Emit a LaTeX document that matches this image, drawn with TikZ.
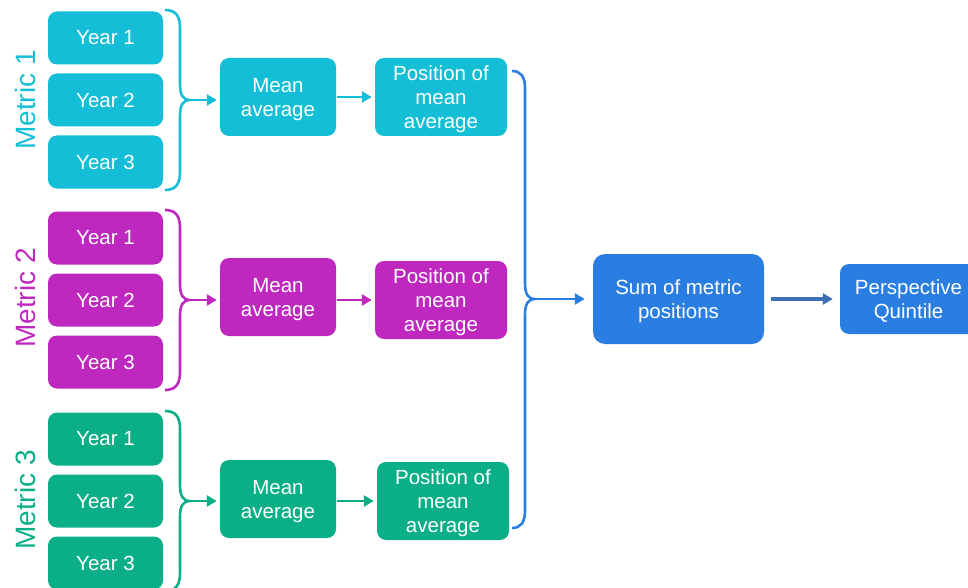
\documentclass[tikz,border=0pt]{standalone}
\usepackage{fontspec}
\setmainfont{Liberation Sans}
\usetikzlibrary{arrows.meta}

\definecolor{mcyan}{RGB}{19,190,214}
\definecolor{mpurple}{RGB}{190,40,190}
\definecolor{mgreen}{RGB}{10,175,135}
\definecolor{mblue}{RGB}{42,125,225}
\definecolor{mdark}{RGB}{59,111,182}

\tikzset{
  box/.style={rounded corners=9pt, text=white, align=center, inner sep=0pt, font=\fontsize{20.5}{24.3}\selectfont},
  twoline/.style={text height=43.5pt, text depth=4.3pt},
  threeline/.style={text height=68pt, text depth=4.3pt},
  yearbox/.style={box, minimum width=115pt, minimum height=53pt},
  meanbox/.style={box, twoline, minimum width=116pt, minimum height=78pt},
  posbox/.style={box, threeline, minimum width=132pt, minimum height=78pt},
  link/.style={line width=2.6pt, -{Triangle[length=10pt,width=11pt]}},
  bracket/.style={line width=2.6pt},
  metric/.style={rotate=90, font=\fontsize{28}{30}\selectfont},
}

\begin{document}
\begin{tikzpicture}[x=1pt,y=-1pt]
		\useasboundingbox (0,0) rectangle (968,588);
		% Metric 1
		\node[metric, text=mcyan] (m1) at (25,100) {Metric 1};
		\node[yearbox, fill=mcyan] (m1y1) at (105.5,38) {Year 1};
		\node[yearbox, fill=mcyan] (m1y2) at (105.5,100) {Year 2};
		\node[yearbox, fill=mcyan] (m1y3) at (105.5,162) {Year 3};
		\node[meanbox, fill=mcyan] (m1mean) at (278,97) {Mean\\average};
		\node[posbox, fill=mcyan] (m1pos) at (441,97) {Position of\\mean\\average};
		\coordinate (m1tip) at (190,100);
		\draw[bracket, mcyan] (165,10) .. controls (175,10) and (180,15) .. (180,28) -- (180,84) .. controls (180,95) and (183,100) .. (m1tip) .. controls (183,100) and (180,105) .. (180,116) -- (180,172) .. controls (180,185) and (175,190) .. (165,190);
		\draw[link, mcyan, shorten >=3pt] (m1tip) -- (m1tip -| m1mean.west);
		\draw[link, mcyan, shorten <=1pt, shorten >=3pt] (m1mean.east) -- (m1pos.west);
		% Metric 2
		\node[metric, text=mpurple] (m2) at (25,298) {Metric 2};
		\node[yearbox, fill=mpurple] (m2y1) at (105.5,238) {Year 1};
		\node[yearbox, fill=mpurple] (m2y2) at (105.5,300) {Year 2};
		\node[yearbox, fill=mpurple] (m2y3) at (105.5,362) {Year 3};
		\node[meanbox, fill=mpurple] (m2mean) at (278,297) {Mean\\average};
		\node[posbox, fill=mpurple] (m2pos) at (441,300) {Position of\\mean\\average};
		\coordinate (m2tip) at (190,300);
		\draw[bracket, mpurple] (165,210) .. controls (175,210) and (180,215) .. (180,228) -- (180,284) .. controls (180,295) and (183,300) .. (m2tip) .. controls (183,300) and (180,305) .. (180,316) -- (180,372) .. controls (180,385) and (175,390) .. (165,390);
		\draw[link, mpurple, shorten >=3pt] (m2tip) -- (m2tip -| m2mean.west);
		\draw[link, mpurple, shorten <=1pt, shorten >=3pt] (m2mean.east |- m2tip) -- (m2pos.west |- m2tip);
		% Metric 3
		\node[metric, text=mgreen] (m3) at (25,500) {Metric 3};
		\node[yearbox, fill=mgreen] (m3y1) at (105.5,439) {Year 1};
		\node[yearbox, fill=mgreen] (m3y2) at (105.5,501) {Year 2};
		\node[yearbox, fill=mgreen] (m3y3) at (105.5,563) {Year 3};
		\node[meanbox, fill=mgreen] (m3mean) at (278,499) {Mean\\average};
		\node[posbox, fill=mgreen] (m3pos) at (443,501) {Position of\\mean\\average};
		\coordinate (m3tip) at (190,501);
		\draw[bracket, mgreen] (165,411) .. controls (175,411) and (180,416) .. (180,429) -- (180,485) .. controls (180,496) and (183,501) .. (m3tip) .. controls (183,501) and (180,506) .. (180,517) -- (180,573) .. controls (180,586) and (175,591) .. (165,591);
		\draw[link, mgreen, shorten >=3pt] (m3tip) -- (m3tip -| m3mean.west);
		\draw[link, mgreen, shorten <=1pt, shorten >=3pt] (m3mean.east |- m3tip) -- (m3pos.west |- m3tip);
		% Sum and quintile
		\node[box, twoline, fill=mblue, rounded corners=12pt, minimum width=171pt, minimum height=90pt] (sum) at (678.5,299) {Sum of metric\\positions};
		\node[box, twoline, fill=mblue, minimum width=137pt, minimum height=70pt] (quint) at (908.5,299) {Perspective\\Quintile};
		\coordinate (bigtip) at (535,299);
		\draw[bracket, mblue] (512,71) .. controls (521,71) and (525,77) .. (525,88) -- (525,283) .. controls (525,294) and (528,299) .. (bigtip) .. controls (528,299) and (525,304) .. (525,315) -- (525,511) .. controls (525,522) and (521,528) .. (512,528);
		\draw[link, mblue, shorten >=8pt] (bigtip) -- (sum.west);
		\draw[link, mdark, line width=3.4pt, shorten <=7pt, shorten >=7pt] (sum.east) -- (quint.west);
		\end{tikzpicture}
\end{document}
